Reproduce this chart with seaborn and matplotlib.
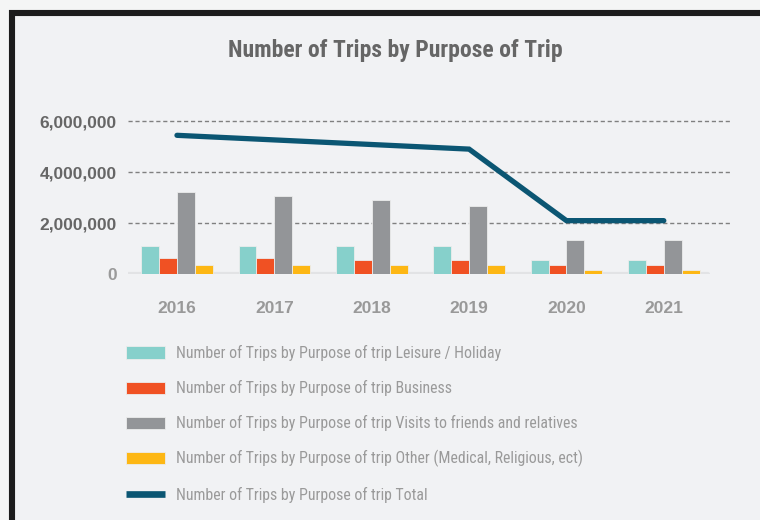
import numpy as np
import pandas as pd
import matplotlib
matplotlib.use("Agg")
import matplotlib.pyplot as plt
import seaborn as sns
from matplotlib import font_manager
from matplotlib.patches import Patch, Rectangle
from matplotlib.lines import Line2D
from matplotlib.ticker import FuncFormatter

# ---- data ----
years = ["2016", "2017", "2018", "2019", "2020", "2021"]
leisure = [1110000, 1110000, 1110000, 1110000, 560000, 560000]
business = [630000, 630000, 560000, 560000, 350000, 350000]
visits = [3240000, 3070000, 2910000, 2680000, 1350000, 1350000]
other = [350000, 350000, 350000, 350000, 170000, 170000]
total = [5440000, 5260000, 5080000, 4900000, 2100000, 2100000]

series_names = [
    "Number of Trips by Purpose of trip Leisure / Holiday",
    "Number of Trips by Purpose of trip Business",
    "Number of Trips by Purpose of trip Visits to friends and relatives",
    "Number of Trips by Purpose of trip Other (Medical, Religious, ect)",
]
total_name = "Number of Trips by Purpose of trip Total"
bar_colors = ["#86d0cb", "#f05123", "#939598", "#fdb714"]
line_color = "#0b5673"

df = pd.DataFrame({
    "year": years * 4,
    "value": leisure + business + visits + other,
    "purpose": sum([[n] * len(years) for n in series_names], []),
})

sns.set_style("white")
plt.rcParams["font.family"] = ["Liberation Sans", "DejaVu Sans"]

# look for a condensed family
names = {f.name for f in font_manager.fontManager.ttflist}
narrow_name = None
for cand in ["Liberation Sans Narrow", "Arial Narrow", "Roboto Condensed",
             "Open Sans Condensed", "DejaVu Sans Condensed", "Noto Sans Condensed"]:
    if cand in names:
        narrow_name = cand
        break
narrow = [narrow_name, "Liberation Sans"] if narrow_name else ["Liberation Sans"]
leg_size = 11.4 if narrow_name else 10.6
title_size = 17 if narrow_name else 14.5

W, H = 760, 520
fig = plt.figure(figsize=(W / 100, H / 100), dpi=100)
fig.patch.set_facecolor("#f4f5f5")
frame = Rectangle((12 / W, -0.1), 1.2, (1 - 13 / H) + 0.1,
                  transform=fig.transFigure, facecolor="#f1f2f4",
                  edgecolor="#1c1c1c", linewidth=4.4, zorder=-10)
fig.patches.append(frame)

ax = fig.add_axes([128 / W, 1 - 274.3 / H, (730 - 128) / W, (274.3 - 115.9) / H])
ax.set_facecolor("none")
ax.set_zorder(1)

sns.barplot(data=df, x="year", y="value", hue="purpose", palette=bar_colors,
            hue_order=series_names, order=years, width=0.736, saturation=1,
            edgecolor="#ececec", linewidth=0.6, legend=False, ax=ax, zorder=3)
sns.lineplot(x=years, y=total, color=line_color, linewidth=3.8, ax=ax,
             zorder=4, solid_capstyle="round", solid_joinstyle="miter")

ax.set_ylim(0, 6200000)
ax.set_xlim(-0.503, 5.68)
ax.set_yticks([0, 2000000, 4000000, 6000000])
ax.yaxis.set_major_formatter(FuncFormatter(lambda v, p: f"{int(v):,}"))
for y in [2000000, 4000000, 6000000]:
    ax.axhline(y, color="#808080", linestyle=(0, (3, 2)), linewidth=1.0, zorder=1)
ax.axhline(0, xmin=0, xmax=(5.45 + 0.503) / (5.68 + 0.503), color="#e2e3e5",
           linewidth=3, zorder=2)
for s in ax.spines.values():
    s.set_visible(False)
ax.set_xlabel("")
ax.set_ylabel("")
ax.tick_params(axis="both", length=0)
ax.tick_params(axis="y", pad=8, labelsize=12.5, labelcolor="#666666")
ax.tick_params(axis="x", pad=19, labelsize=12.5, labelcolor="#999999")
for lab in ax.get_yticklabels() + ax.get_xticklabels():
    lab.set_fontweight("bold")
ax.get_yticklabels()[0].set_color("#9a9a9a")

fig.text(395 / W, 1 - 51 / H, "Number of Trips by Purpose of Trip", ha="center",
         va="center", fontsize=title_size, fontweight="bold", color="#666666",
         family=narrow)

handles = [Patch(facecolor=c, edgecolor="#ececec", linewidth=0.6) for c in bar_colors]
handles.append(Line2D([0], [0], color=line_color, linewidth=4.8, solid_capstyle="butt"))
labels = series_names + [total_name]
hl_px, hh_px = 39, 12.7
fs_px = leg_size * 100 / 72
leg = fig.legend(handles, labels, loc="upper left",
                 bbox_to_anchor=(126 / W, 1 - 345 / H), frameon=False,
                 prop={"family": narrow, "size": leg_size}, labelcolor="#9a9a9a",
                 handlelength=hl_px / fs_px, handleheight=hh_px / fs_px,
                 handletextpad=11 / fs_px,
                 labelspacing=(35 - fs_px * 1.007) / fs_px, borderaxespad=0, borderpad=0)

fig.savefig("out.png", dpi=100, facecolor=fig.get_facecolor())
